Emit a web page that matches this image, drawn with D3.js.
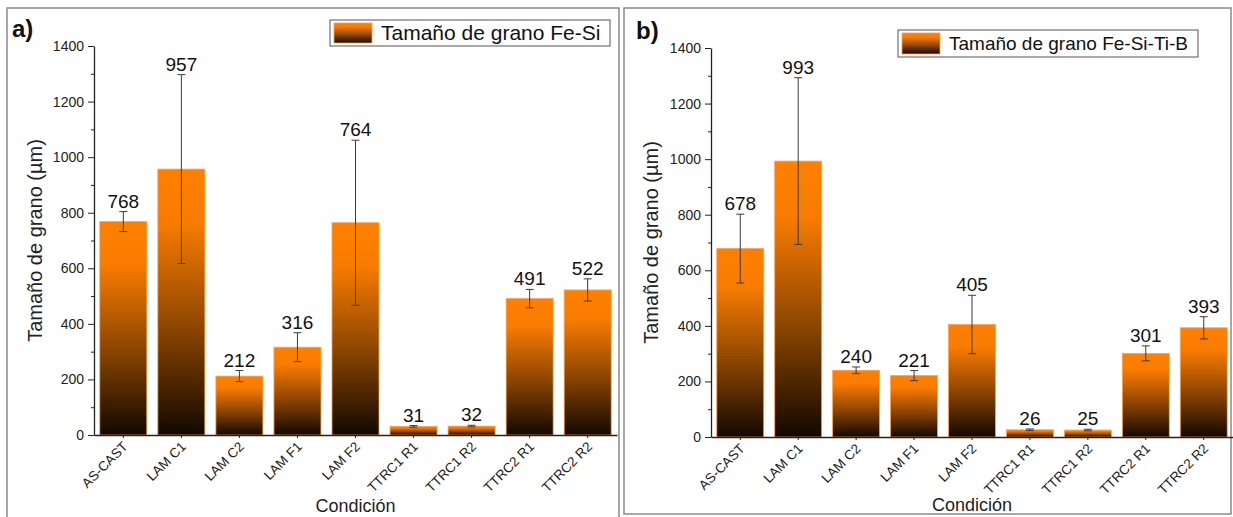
<!DOCTYPE html>
<html>
<head>
<meta charset="utf-8">
<script src="https://cdn.jsdelivr.net/npm/d3@7"></script>
<style>
  body { margin: 0; background: #fff; }
  svg { display: block; font-family: "Liberation Sans", Arial, sans-serif; }
  .axis path, .axis line { stroke: #222; }
  .axis text { fill: #222; }
</style>
</head>
<body>
<svg id="chart" width="1233" height="517"></svg>
<script>
//Conditions on the x axis (same for both panels)
var categories = ["AS-CAST", "LAM C1", "LAM C2", "LAM F1", "LAM F2", "TTRC1 R1", "TTRC1 R2", "TTRC2 R1", "TTRC2 R2"];

//Panel a) Fe-Si grain size and its error
var feSi = [768, 957, 212, 316, 764, 31, 32, 491, 522];
var feSiErr = [36, 340, 20, 52, 297, 3, 3, 33, 40];

//Panel b) Fe-Si-Ti-B grain size and its error
var feSiTiB = [678, 993, 240, 221, 405, 26, 25, 301, 393];
var feSiTiBErr = [124, 300, 12, 18, 105, 3, 3, 27, 40];

//Y axis ticks
var yTicks = [0, 200, 400, 600, 800, 1000, 1200, 1400];
var yMinorTicks = [100, 300, 500, 700, 900, 1100, 1300];

var svg = d3.select("#chart");

//Orange to black gradient used by bars and legend swatches
var grad = svg.append("defs").append("linearGradient")
  .attr("id", "barGrad")
  .attr("x1", 0).attr("y1", 0).attr("x2", 0).attr("y2", 1);
grad.append("stop").attr("offset", "0%").attr("stop-color", "#ff8000");
grad.append("stop").attr("offset", "20%").attr("stop-color", "#f97c00");
grad.append("stop").attr("offset", "60%").attr("stop-color", "#8c4500");
grad.append("stop").attr("offset", "100%").attr("stop-color", "#120800");

drawPanel({
  tag: "a)", tagX: 12, tagY: 37,
  frame: [7, 8, 619, 522],
  left: 94, right: 617, top: 46, bottom: 435,
  values: feSi, errors: feSiErr,
  legend: "Tamaño de grano Fe-Si", legendBox: [330, 20, 280, 26], legendSize: 21,
  yTitleX: 42, xTitleY: 512
});

drawPanel({
  tag: "b)", tagX: 636, tagY: 39,
  frame: [624, 8, 1231, 514],
  left: 711, right: 1233, top: 48, bottom: 437,
  values: feSiTiB, errors: feSiTiBErr,
  legend: "Tamaño de grano Fe-Si-Ti-B", legendBox: [898, 30, 300, 27], legendSize: 19,
  yTitleX: 658, xTitleY: 511
});

//Draws one bar chart panel with its frame, axes, bars, error bars and legend
function drawPanel(p) {
  var g = svg.append("g");

  //Grey frame round the panel
  g.append("rect")
    .attr("x", p.frame[0]).attr("y", p.frame[1])
    .attr("width", p.frame[2] - p.frame[0])
    .attr("height", p.frame[3] - p.frame[1])
    .attr("fill", "none")
    .attr("stroke", "#8a8a8a")
    .attr("stroke-width", 1.5);

  var x = d3.scaleBand()
    .domain(categories)
    .range([p.left, p.right])
    .paddingInner(0.19)
    .paddingOuter(0.1);

  var y = d3.scaleLinear()
    .domain([0, 1400])
    .range([p.bottom, p.top]);

  var data = categories.map(function(c, i) {
    return { cat: c, value: p.values[i], err: p.errors[i] };
  });

  //Bars
  g.append("g")
    .selectAll("rect")
    .data(data)
    .enter().append("rect")
    .attr("x", function(d) { return x(d.cat); })
    .attr("y", function(d) { return y(d.value); })
    .attr("width", x.bandwidth())
    .attr("height", function(d) { return y(0) - y(d.value); })
    .attr("fill", "url(#barGrad)")
    .attr("stroke", "#ffa24a")
    .attr("stroke-width", 0.8);

  //Error bars
  var eb = g.append("g")
    .attr("stroke", "#3a3a3a")
    .attr("stroke-width", 1)
    .selectAll("g")
    .data(data)
    .enter().append("g")
    .attr("transform", function(d) { return "translate(" + (x(d.cat) + x.bandwidth() / 2) + ",0)"; });

  eb.append("line")
    .attr("y1", function(d) { return y(d.value + d.err); })
    .attr("y2", function(d) { return y(d.value - d.err); });
  eb.append("line")
    .attr("x1", -4).attr("x2", 4)
    .attr("y1", function(d) { return y(d.value + d.err); })
    .attr("y2", function(d) { return y(d.value + d.err); });
  eb.append("line")
    .attr("x1", -4).attr("x2", 4)
    .attr("y1", function(d) { return y(d.value - d.err); })
    .attr("y2", function(d) { return y(d.value - d.err); });

  //Value labels above the error bars
  g.append("g")
    .attr("font-size", 19)
    .attr("text-anchor", "middle")
    .attr("fill", "#111")
    .selectAll("text")
    .data(data)
    .enter().append("text")
    .attr("x", function(d) { return x(d.cat) + x.bandwidth() / 2; })
    .attr("y", function(d) { return y(d.value + d.err) - 4; })
    .text(function(d) { return d.value; });

  //Y axis with minor ticks
  g.append("g")
    .attr("class", "axis")
    .attr("transform", "translate(" + p.left + ",0)")
    .call(d3.axisLeft(y).tickValues(yMinorTicks).tickSize(3).tickFormat(""))
    .call(function(a) { a.select(".domain").remove(); });

  var yAxis = g.append("g")
    .attr("class", "axis")
    .attr("transform", "translate(" + p.left + ",0)")
    .call(d3.axisLeft(y).tickValues(yTicks).tickFormat(d3.format("d")).tickSize(6).tickSizeOuter(0).tickPadding(4));
  yAxis.selectAll("text").attr("font-size", 14);
  yAxis.select(".domain").attr("stroke-width", 1.3);

  //X axis with rotated labels
  var xAxis = g.append("g")
    .attr("class", "axis")
    .attr("transform", "translate(0," + p.bottom + ")")
    .call(d3.axisBottom(x).tickSize(3).tickSizeOuter(0));
  xAxis.select(".domain").attr("stroke-width", 1.3);
  xAxis.selectAll("text")
    .attr("font-size", 13.5)
    .attr("text-anchor", "end")
    .attr("x", 0).attr("y", 0).attr("dy", "0.35em")
    .attr("transform", "translate(2,9) rotate(-45)");

  //Axis titles
  g.append("text")
    .attr("transform", "translate(" + p.yTitleX + "," + ((p.top + p.bottom) / 2) + ") rotate(-90)")
    .attr("text-anchor", "middle")
    .attr("font-size", 20)
    .attr("fill", "#222")
    .text("Tamaño de grano (µm)");

  g.append("text")
    .attr("x", (p.left + p.right) / 2)
    .attr("y", p.xTitleY)
    .attr("text-anchor", "middle")
    .attr("font-size", 18)
    .attr("fill", "#222")
    .text("Condición");

  //Panel tag
  g.append("text")
    .attr("x", p.tagX).attr("y", p.tagY)
    .attr("font-size", 24)
    .attr("font-weight", "bold")
    .attr("fill", "#111")
    .text(p.tag);

  //Legend
  var lb = p.legendBox;
  g.append("rect")
    .attr("x", lb[0]).attr("y", lb[1])
    .attr("width", lb[2]).attr("height", lb[3])
    .attr("fill", "#fff")
    .attr("stroke", "#555")
    .attr("stroke-width", 1);
  g.append("rect")
    .attr("x", lb[0] + 4).attr("y", lb[1] + 3)
    .attr("width", 38).attr("height", lb[3] - 6)
    .attr("fill", "url(#barGrad)")
    .attr("stroke", "#ffa24a")
    .attr("stroke-width", 0.8);
  g.append("text")
    .attr("x", lb[0] + 51)
    .attr("y", lb[1] + lb[3] / 2)
    .attr("dy", "0.35em")
    .attr("font-size", p.legendSize)
    .attr("fill", "#111")
    .text(p.legend);
}
</script>
</body>
</html>
